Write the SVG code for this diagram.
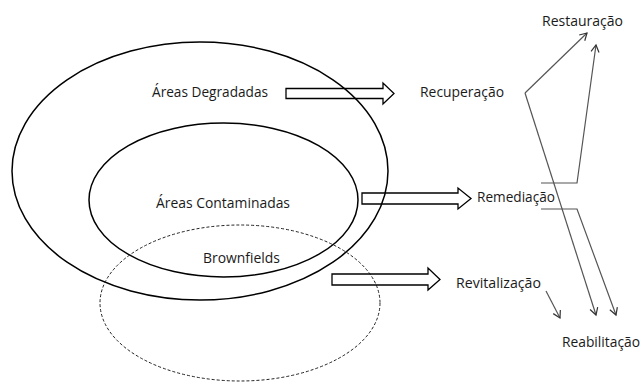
<svg xmlns="http://www.w3.org/2000/svg" width="641" height="383" viewBox="0 0 641 383">
<style>
.t{font-family:"Open Sans","Liberation Sans",sans-serif;font-size:14px;fill:#1a1a1a}
.e{fill:none;stroke:#000;stroke-width:1.5}
.d{fill:none;stroke:#222;stroke-width:1;stroke-dasharray:3 2}
.ba{fill:none;stroke:#000;stroke-width:1.3;stroke-linejoin:miter}
.g{fill:none;stroke:#555;stroke-width:1.2}
</style>
<defs>
<marker id="ah" markerWidth="10" markerHeight="10" refX="8" refY="5" orient="auto" markerUnits="userSpaceOnUse">
<path d="M1,1 L8,5 L1,9" fill="none" stroke="#333" stroke-width="1.2"/>
</marker>
</defs>
<rect width="641" height="383" fill="#fff"/>
<g id="areas-degradadas">
<ellipse class="e" cx="200" cy="171" rx="188" ry="129"/>
<text class="t" x="152" y="97" textLength="116" lengthAdjust="spacingAndGlyphs">Áreas Degradadas</text>
</g>
<g id="areas-contaminadas">
<ellipse class="e" cx="223.5" cy="200" rx="134.5" ry="77"/>
<text class="t" x="156" y="208" textLength="134" lengthAdjust="spacingAndGlyphs">Áreas Contaminadas</text>
</g>
<g id="brownfields">
<ellipse class="d" cx="240" cy="303" rx="140" ry="78"/>
<text class="t" x="203" y="263" textLength="77" lengthAdjust="spacingAndGlyphs">Brownfields</text>
</g>
<g id="recuperacao"><text class="t" x="420" y="97" textLength="84" lengthAdjust="spacingAndGlyphs">Recuperação</text></g>
<g id="restauracao"><text class="t" x="542" y="26" textLength="81" lengthAdjust="spacingAndGlyphs">Restauração</text></g>
<g id="remediacao"><text class="t" x="477" y="202" textLength="78" lengthAdjust="spacingAndGlyphs">Remediação</text></g>
<g id="revitalizacao"><text class="t" x="456" y="288" textLength="85" lengthAdjust="spacingAndGlyphs">Revitalização</text></g>
<g id="reabilitacao"><text class="t" x="562" y="347" textLength="78" lengthAdjust="spacingAndGlyphs">Reabilitação</text></g>
<g id="connectors">
<path class="ba" d="M286,88.5 H383 V83 L394,93.5 L383,104 V98.5 H286 Z"/>
<path class="ba" d="M362,193 H458 V188 L471,198.5 L458,209 V204 H362 Z"/>
<path class="ba" d="M332,274 H428 V268 L440,279.5 L428,290 V285 H332 Z"/>
<path class="g" d="M525,93 L587,33" marker-end="url(#ah)"/>
<path class="g" d="M525,93 L596,315" marker-end="url(#ah)"/>
<path class="g" d="M541,183 H577 L596,45" marker-end="url(#ah)"/>
<path class="g" d="M541,209 H577 L616,315" marker-end="url(#ah)"/>
<path class="g" d="M546,291 L560,318" marker-end="url(#ah)"/>
</g>
</svg>
